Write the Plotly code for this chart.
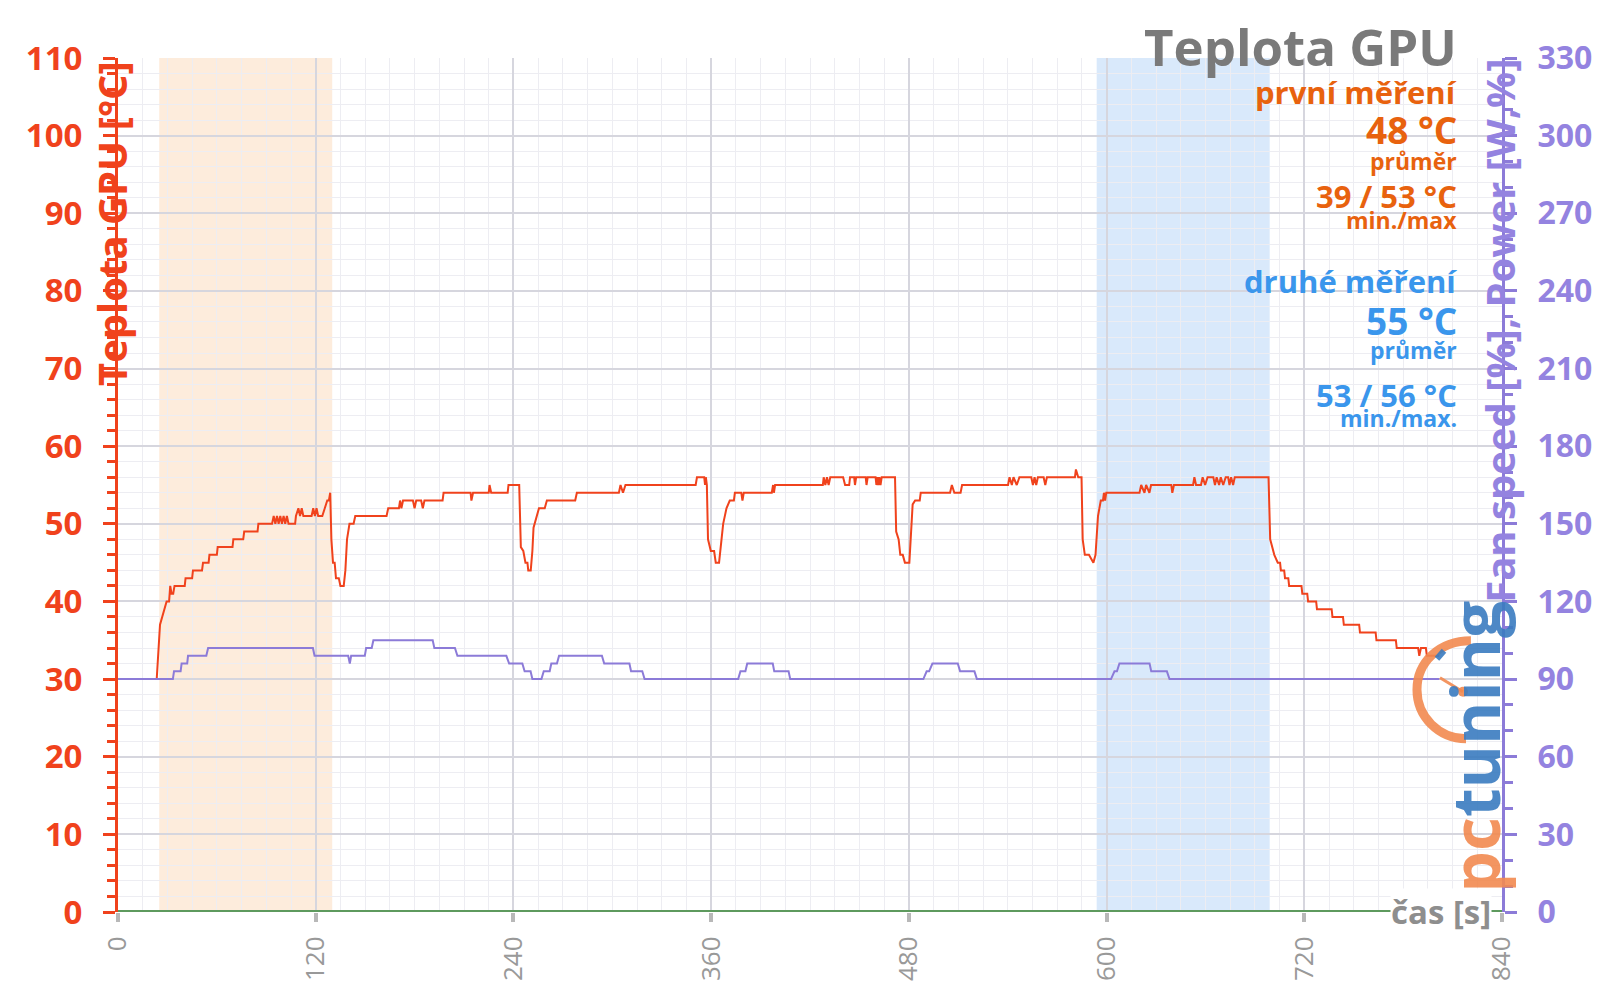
import plotly.graph_objects as go

# ---------------- data ----------------
temp_time = [
    0, 23.5, 25.5, 27.5, 29.5, 31, 31.7, 32.5, 33.5, 34.3, 40.5, 41, 45, 45.5, 51, 51.6, 55, 55.5, 60, 60.5,
    69.5, 70, 76, 76.6, 84.7, 85.2, 93.5, 94.5, 95.5, 96.5, 97.5, 98.5, 99.5, 100.5, 101.5, 102.5, 103.5,
    107.5, 108, 109.5, 110.5, 111.5, 112.5, 117.5, 118.5, 119.5, 120.5, 121.5, 124, 125.5, 127, 128, 128.8,
    129.5, 130.5, 131.5, 132.3, 134, 135, 137, 138, 139, 140.5, 143, 144, 163, 164, 170.5, 171.2, 172, 173,
    179, 180, 181, 184, 185, 186, 197, 197.6,
    214, 214.5, 215.5, 225, 225.5, 226.5, 236.5, 237, 243.5, 244.5, 246, 247.3, 248.5, 249, 250.5, 251.5,
    252.2, 254.2, 255.5, 259, 260.3, 277.5, 278.5,
    304, 305, 306.5, 308, 350.6, 351.4, 355.8, 356.3, 356.8, 357.4, 358.1, 359.8, 361.8, 362.8, 364.8, 365.8,
    367.3, 369.3, 371.3, 373.8, 374.4, 378.3, 379, 379.8, 396.8, 397.6, 398.1, 398.8,
    427.8, 428.3, 429.3, 430.3, 431.3, 432.3, 440.1, 441.3, 443.8, 444.3, 446.8, 447.3, 448, 453.8, 454.3,
    455, 459.8, 460.3, 460.9, 461.5, 462.1, 462.8, 463.5, 471.6, 472.3, 473.8, 474.8, 476.3, 477.6, 480.3,
    481.3, 482.3, 483.8, 486.6, 487.2,
    505, 506.1, 507.6, 511.4, 512.3, 540.2, 541.1, 542.5, 543.5, 545.5, 547.1, 554.3, 555.3, 556.3, 557.3,
    558.3, 561.8, 562.8, 563.8, 580.8, 581.4, 582.8, 584.8, 585.5, 586.8, 589.3, 590.5, 592, 593.3, 594.8,
    596.5, 597.8, 598.4, 599.1, 599.8,
    620, 621, 623, 624, 626, 627, 639.3, 639.9, 640.9, 652.5, 653.3, 654.3, 657.3, 658.3, 659.8, 661.3,
    664.8, 665.8, 666.8, 668.3, 669.3, 670.8, 672.3, 673.8, 674.6, 675.6, 676.8, 677.8, 698.3,
    699.3, 701.8, 703.9, 705.3, 705.8, 707.8, 708.3, 710.3, 710.8, 718.3, 718.8, 721.8, 722.3, 727.2, 727.7,
    736.6, 737.1, 743.5, 744, 753.3, 753.8, 763.3, 763.8, 775.6, 776.1, 789.1, 789.8, 790.8, 793.8, 794.4, 802,
]
temp_c = [
    30, 30, 37, 38.5, 40, 40, 42, 41, 41, 42, 42, 43, 43, 44, 44, 45, 45, 46, 46, 47,
    47, 48, 48, 49, 49, 50, 50, 51, 50, 51, 50, 51, 50, 51, 50, 51, 50,
    50, 51, 52, 51, 52, 51, 51, 52, 51, 52, 51, 51, 52, 53, 53, 54,
    48, 45, 45, 43, 43, 42, 42, 44, 48, 50, 50, 51, 51, 52, 52, 53, 52, 53,
    53, 52, 53, 53, 52, 53, 53, 54,
    54, 53, 54, 54, 55, 54, 54, 55, 55, 47, 46.5, 45, 45, 44, 44, 46.5,
    49.5, 51, 52, 52, 53, 53, 54,
    54, 55, 54, 55, 55, 56, 56, 55, 56, 55, 48, 46.5, 46.5, 45, 45, 47,
    50, 52, 53, 53, 54, 54, 53, 54, 54, 55, 54, 55,
    55, 56, 55, 56, 55, 56, 56, 55, 55, 56, 56, 55, 56, 56, 55,
    56, 56, 55, 56, 55, 56, 55, 56, 56, 49, 48, 46, 46, 45, 45,
    49, 52.5, 53, 53, 54,
    54, 55, 54, 54, 55, 55, 56, 55, 56, 55, 56, 56, 55, 56, 55,
    56, 56, 55, 56, 56, 57, 56, 56, 48, 46, 46, 45.5, 45, 46, 51,
    53, 53, 54, 53, 54,
    54, 55, 54, 55, 54, 55, 55, 54, 55, 55, 56, 55, 55, 56, 55, 56,
    56, 55, 56, 55, 56, 55, 56, 56, 55, 56, 55, 56, 56,
    48, 46, 45, 45, 44, 44, 43, 43, 42, 42, 41, 41, 40, 40, 39,
    39, 38, 38, 37, 37, 36, 36, 35, 35, 34, 34, 33, 34, 34, 33, 33,
]

fan_time = [
    0, 33.3, 34, 38, 38.6, 42, 42.5, 53.6, 54.7, 118.3, 119.3, 139.7, 140.7, 141.5, 149.8, 150.6, 154, 155,
    191, 192, 204.5, 206, 235.7, 237.4, 245.4, 246.8, 250.4, 251.5, 257, 258.4, 262, 263, 266.4, 267.7,
    293.7, 295.1, 310.4, 311.4, 318.2, 319.6, 376.4, 377.8, 380.8, 381.9, 397.4, 398.3, 407, 408,
    488.8, 490.8, 492.3, 494.3, 509.7, 511.1, 519.8, 521.3, 602.7, 604.8, 606.3, 607.8, 626.1, 627.1,
    636.6, 638.2, 802,
]
fan_power = [
    90, 90, 93, 93, 96, 96, 99, 99, 102, 102, 99, 99, 96, 99, 99, 102, 102, 105,
    105, 102, 102, 99, 99, 96, 96, 93, 93, 90, 90, 93, 93, 96, 96, 99,
    99, 96, 96, 93, 93, 90, 90, 93, 93, 96, 96, 93, 93, 90,
    90, 93, 93, 96, 96, 93, 93, 90, 90, 93, 93, 96, 96, 93,
    93, 90, 90,
]

base_time = [0, 840]
base_value = [0, 0]

first_window = [25, 130]
second_window = [594, 699]

x_ticks = [0, 120, 240, 360, 480, 600, 720, 840]

title_text = "Teplota GPU"
first_lines = ["první měření", "48 °C", "průměr", "39 / 53 °C", "min./max"]
second_lines = ["druhé měření", "55 °C", "průměr", "53 / 56 °C", "min./max."]

# ---------------- styling ----------------
RED = "#F0421C"
PURPLE = "#8C7BD8"
PURPLE_TXT = "#9483E0"
ORANGE_TXT = "#E8620E"
BLUE_TXT = "#3A96EC"
GRAY = "#8E8E8E"
FONT = "Open Sans"

PX_L, PX_R, PY_T, PY_B = 118.3, 1502.0, 58.2, 912.3


def px(x, y):
    return (x - PX_L) / (PX_R - PX_L), (PY_B - y) / (PY_B - PY_T)


fig = go.Figure()

fig.add_trace(go.Scatter(x=base_time, y=base_value, mode="lines",
                         line=dict(color="#5E9A5E", width=4), hoverinfo="skip", showlegend=False))
fig.add_trace(go.Scatter(x=fan_time, y=fan_power, mode="lines", yaxis="y2",
                         line=dict(color=PURPLE, width=2), showlegend=False))
fig.add_trace(go.Scatter(x=temp_time, y=temp_c, mode="lines",
                         line=dict(color=RED, width=2), showlegend=False))

shapes = [
    dict(type="rect", xref="x", yref="y", x0=first_window[0], x1=first_window[1], y0=0, y1=110,
         fillcolor="#FDEAD8", line=dict(width=0), layer="below", opacity=0.9),
    dict(type="rect", xref="x", yref="y", x0=second_window[0], x1=second_window[1], y0=0, y1=110,
         fillcolor="#D5E7FB", line=dict(width=0), layer="below", opacity=0.9),
]

# pctuning logo decoration (gauge arc + needle)
cx, cy, r = 1466, 690, 49
k = 0.5523
def P(x, y):
    a, b = px(x, y)
    return f"{a:.5f},{b:.5f}"
arc = (f"M {P(cx + 0.1*r, cy - r)} "
       f"C {P(cx - k*r, cy - r)} {P(cx - r, cy - k*r)} {P(cx - r, cy)} "
       f"C {P(cx - r, cy + k*r)} {P(cx - k*r, cy + r)} {P(cx, cy + r)}")
shapes.append(dict(type="path", xref="paper", yref="paper", path=arc,
                   line=dict(color="#F28A50", width=9), opacity=0.9))
nx0, ny0 = px(1440, 678)
nx1, ny1 = px(1463, 692)
shapes.append(dict(type="line", xref="paper", yref="paper", x0=nx0, y0=ny0, x1=nx1, y1=ny1,
                   line=dict(color="#F28A50", width=3), opacity=0.9))
dx0, dy0 = px(1458, 687)
dx1, dy1 = px(1468, 697)
shapes.append(dict(type="circle", xref="paper", yref="paper", x0=dx0, y0=dy0, x1=dx1, y1=dy1,
                   fillcolor="#F28A50", line=dict(width=0), opacity=0.9))
bx0, by0 = px(1437, 659)
bx1, by1 = px(1444, 651)
shapes.append(dict(type="line", xref="paper", yref="paper", x0=bx0, y0=by0, x1=bx1, y1=by1,
                   line=dict(color="#3A7CC0", width=6), opacity=0.9))

annotations = []

def add_text(text, x, y, size, color, xanchor="right", angle=0, yanchor="middle", bg=None):
    ax, ay = px(x, y)
    d = dict(text=text, x=ax, y=ay, xref="paper", yref="paper", showarrow=False,
             xanchor=xanchor, yanchor=yanchor, textangle=angle, borderpad=0,
             font=dict(family=FONT, size=size, color=color, weight="bold"))
    if bg:
        d["bgcolor"] = bg
    annotations.append(d)

add_text(title_text, 1458, 46, 51, "#7A7A7A")
first_y = [92, 130, 161, 196, 220]
sizes = [31, 37, 23, 31, 23]
for t, y, s in zip(first_lines, first_y, sizes):
    add_text(t, 1458, y, s, ORANGE_TXT)
second_y = [281, 321, 350, 395, 418]
for t, y, s in zip(second_lines, second_y, sizes):
    add_text(t, 1458, y, s, BLUE_TXT)

# axis titles
add_text("Teplota GPU [°C]", 112, 60, 40, RED, xanchor="center", angle=-90, yanchor="top")
add_text("Fan speed [%], Power [W,%]", 1500, 58, 40, PURPLE_TXT, xanchor="center", angle=-90, yanchor="top")
# x label
add_text("čas [s]", 1492, 912, 33, GRAY, bg="white")
# logo text
add_text("<span style='color:#F28A50'>pc</span><span style='color:#3A7CC0'>tuning</span>",
         1474, 600, 66, "#3A7CC0", xanchor="center", angle=-90, yanchor="top")
annotations[-1]["opacity"] = 0.9

fig.update_layout(
    width=1600, height=1007,
    margin=dict(l=118, r=98, t=58, b=95, autoexpand=False),
    paper_bgcolor="white", plot_bgcolor="white",
    font=dict(family=FONT, weight="bold"),
    shapes=shapes, annotations=annotations,
    showlegend=False,
    xaxis=dict(range=[0, 840], tickvals=x_ticks, tickangle=-90, automargin=False,
               tickfont=dict(family=FONT, size=26, color="#999999", weight="normal"),
               showgrid=True, gridcolor="#D6D6DE", gridwidth=1.5,
               minor=dict(dtick=15, showgrid=True, gridcolor="#EDEDF2", gridwidth=1),
               showline=False, zeroline=False,
               ticks="outside", ticklen=9, tickwidth=4, tickcolor="#B8B8B8",
               ticklabelstandoff=4),
    yaxis=dict(range=[0, 110], dtick=10, tick0=0, automargin=False,
               tickfont=dict(family=FONT, size=33, color=RED, weight="bold"),
               showgrid=True, gridcolor="#D6D6DE", gridwidth=1.5,
               minor=dict(dtick=2, showgrid=True, gridcolor="#EDEDF2", gridwidth=1,
                          ticks="outside", ticklen=8, tickwidth=3, tickcolor=RED),
               showline=True, linecolor=RED, linewidth=3, zeroline=False,
               ticks="outside", ticklen=12, tickwidth=3, tickcolor=RED,
               ticklabelstandoff=14),
    yaxis2=dict(range=[0, 330], dtick=30, tick0=0, overlaying="y", side="right", automargin=False,
                tickfont=dict(family=FONT, size=32, color=PURPLE_TXT, weight="bold"),
                showgrid=False, zeroline=False,
                minor=dict(dtick=10, ticks="outside", ticklen=8, tickwidth=3, tickcolor=PURPLE),
                showline=True, linecolor=PURPLE, linewidth=3,
                ticks="outside", ticklen=12, tickwidth=3, tickcolor=PURPLE,
                ticklabelstandoff=14),
)

fig.write_html("out.html")
